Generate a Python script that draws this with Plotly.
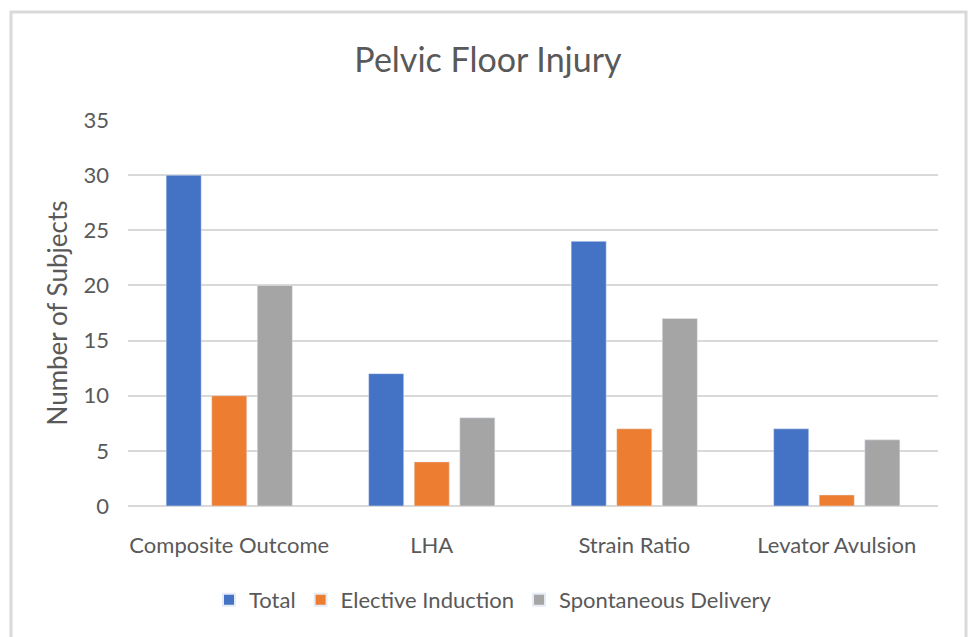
import plotly.graph_objects as go

categories = ["Composite Outcome", "LHA", "Strain Ratio", "Levator Avulsion"]
total = [30, 12, 24, 7]
elective_induction = [10, 4, 7, 1]
spontaneous_delivery = [20, 8, 17, 6]
y_ticks = [0, 5, 10, 15, 20, 25, 30, 35]

FONT = "Lato, 'Open Sans', sans-serif"
TXT = "#595959"

fig = go.Figure()
fig.add_trace(go.Bar(name="Total", x=categories, y=total, marker_color="#4472C4"))
fig.add_trace(go.Bar(name="Elective Induction", x=categories, y=elective_induction, marker_color="#ED7D31"))
fig.add_trace(go.Bar(name="Spontaneous Delivery", x=categories, y=spontaneous_delivery, marker_color="#A5A5A5"))

W, H = 968, 637
L, R, T, B = 128, 30, 120, 131
pw, ph = W - L - R, H - T - B

def px_x(v):
    return (v - L) / pw

def px_y(v):
    return (H - B - v) / ph

fig.update_layout(
    width=W, height=H,
    margin=dict(l=L, r=R, t=T, b=B, autoexpand=False),
    paper_bgcolor="white", plot_bgcolor="white",
    font=dict(family=FONT, color=TXT, size=22),
    title=dict(text="Pelvic Floor Injury", x=488 / W, xanchor="center", xref="container",
               y=1 - 60 / H, yanchor="middle", font=dict(size=34, color=TXT, family=FONT)),
    barmode="group", bargap=0.325, bargroupgap=0.23,
    showlegend=True,
    legend=dict(orientation="h", x=px_x(493), xanchor="center", y=px_y(600), yanchor="middle",
                font=dict(size=22, color=TXT), itemsizing="constant", tracegroupgap=0,
                traceorder="normal"),
    xaxis=dict(showgrid=False, showline=False, ticks="", ticklabelstandoff=24,
               tickfont=dict(size=22, color=TXT)),
    yaxis=dict(range=[0, 35], tickvals=y_ticks, showgrid=True, gridcolor="#D9D9D9", gridwidth=2,
               zeroline=True, zerolinecolor="#D9D9D9", zerolinewidth=2, showline=False,
               ticks="", ticklabelstandoff=18, tickfont=dict(size=22, color=TXT),
               title=dict(text="Number of Subjects", standoff=8, font=dict(size=26, color=TXT))),
)

fig.add_shape(type="rect", xref="paper", yref="paper",
              x0=px_x(11), x1=px_x(966), y0=px_y(660), y1=px_y(12),
              line=dict(color="#D9D9D9", width=3), fillcolor="rgba(0,0,0,0)", layer="below")

fig.write_html("out.html", config={"displayModeBar": False},
               post_script="document.body.style.margin='0';")
